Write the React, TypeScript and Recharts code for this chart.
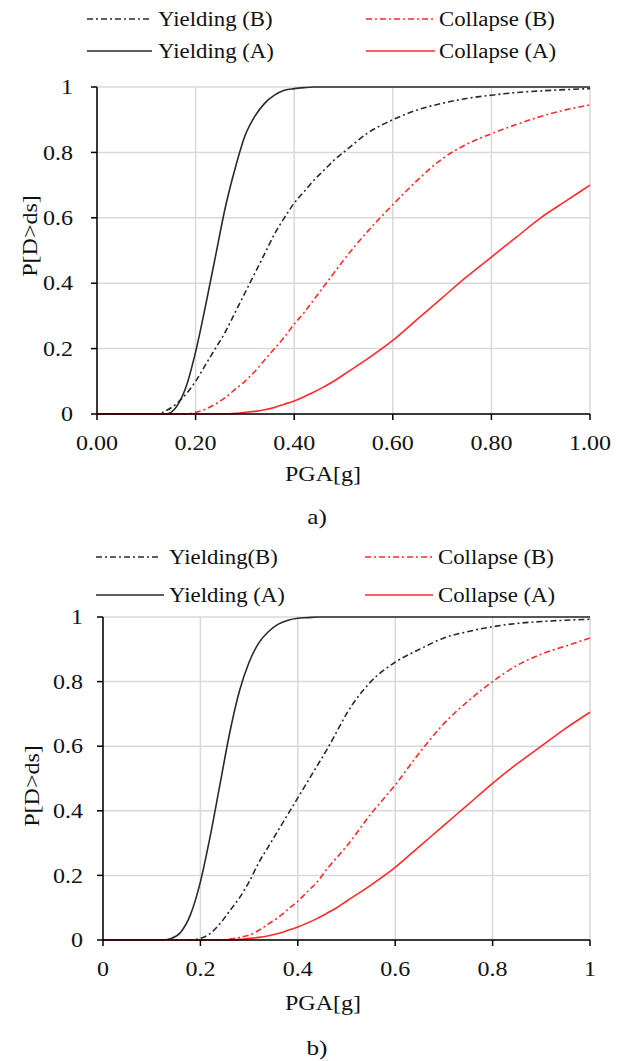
import { CartesianGrid, Line, LineChart, XAxis, YAxis } from "recharts";

// PGA sample points (g), shared by every curve
const pga = [
  0, 0.1, 0.12, 0.14, 0.16, 0.18, 0.2, 0.22, 0.24, 0.26, 0.28, 0.3, 0.32, 0.34, 0.36, 0.38,
  0.4, 0.42, 0.44, 0.46, 0.48, 0.5, 0.55, 0.6, 0.65, 0.7, 0.75, 0.8, 0.85, 0.9, 0.95, 1,
];

// panel a)
const yieldingA_a = [
  0, 0, 0, 0, 0.02, 0.08, 0.19, 0.33, 0.48, 0.63, 0.75, 0.85, 0.91, 0.95, 0.975, 0.99,
  0.995, 0.998, 1, 1, 1, 1, 1, 1, 1, 1, 1, 1, 1, 1, 1, 1,
];
const yieldingB_a = [
  0, 0, 0, 0.01, 0.03, 0.06, 0.1, 0.15, 0.2, 0.25, 0.31, 0.37, 0.43, 0.49, 0.55, 0.6,
  0.645, 0.68, 0.715, 0.745, 0.775, 0.8, 0.86, 0.9, 0.93, 0.95, 0.965, 0.975, 0.983, 0.988, 0.992, 0.995,
];
const collapseB_a = [
  0, 0, 0, 0, 0, 0, 0.005, 0.015, 0.03, 0.05, 0.075, 0.1, 0.13, 0.165, 0.2, 0.235,
  0.275, 0.31, 0.35, 0.39, 0.43, 0.47, 0.56, 0.64, 0.715, 0.78, 0.825, 0.857, 0.885, 0.91, 0.93, 0.945,
];
const collapseA_a = [
  0, 0, 0, 0, 0, 0, 0, 0, 0, 0, 0.002, 0.005, 0.008, 0.013, 0.02, 0.03,
  0.04, 0.053, 0.067, 0.083, 0.1, 0.12, 0.17, 0.225, 0.29, 0.355, 0.42, 0.48, 0.54, 0.6, 0.65, 0.7,
];

// panel b)
const yieldingA_b = [
  0, 0, 0, 0.005, 0.025, 0.08, 0.18, 0.32, 0.48, 0.64, 0.77, 0.86, 0.92, 0.955, 0.978, 0.99,
  0.996, 0.998, 1, 1, 1, 1, 1, 1, 1, 1, 1, 1, 1, 1, 1, 1,
];
const yieldingB_b = [
  0, 0, 0, 0, 0, 0, 0.005, 0.02, 0.05, 0.09, 0.13, 0.18, 0.24, 0.29, 0.34, 0.39,
  0.44, 0.49, 0.54, 0.59, 0.645, 0.7, 0.8, 0.86, 0.9, 0.935, 0.955, 0.97, 0.98, 0.986, 0.99, 0.993,
];
const collapseB_b = [
  0, 0, 0, 0, 0, 0, 0, 0, 0, 0.003, 0.008, 0.015, 0.03, 0.05, 0.07, 0.095,
  0.12, 0.15, 0.18, 0.22, 0.255, 0.29, 0.39, 0.48, 0.58, 0.67, 0.74, 0.8, 0.85, 0.885, 0.91, 0.935,
];
const collapseA_b = [
  0, 0, 0, 0, 0, 0, 0, 0, 0, 0, 0.002, 0.005, 0.008, 0.013, 0.02, 0.03,
  0.04, 0.053, 0.067, 0.083, 0.1, 0.12, 0.17, 0.225, 0.29, 0.355, 0.42, 0.485, 0.545, 0.6, 0.655, 0.705,
];

const xTicks = [0, 0.2, 0.4, 0.6, 0.8, 1];
const yTicks = [0, 0.2, 0.4, 0.6, 0.8, 1];

const FONT = "'Liberation Serif', 'Times New Roman', serif";
const BLACK = "#2a2a2a";
const RED = "#ff2b2b";
const DASH = "6 3 2 3";
const STRETCH = 1.2; // the figure's text is drawn wide

const rows = (yA: number[], yB: number[], cA: number[], cB: number[]) =>
  pga.map((x, i) => ({ pga: x, yA: yA[i], yB: yB[i], cA: cA[i], cB: cB[i] }));

const XTick = ({ x, y, payload, fmt }: any) => (
  <text
    transform={`translate(${x},${y}) scale(${STRETCH},1)`}
    textAnchor="middle"
    dy="0.71em"
    fontSize={20}
    fontFamily={FONT}
    fill="#111"
  >
    {fmt(payload.value)}
  </text>
);

const YTick = ({ x, y, payload }: any) => (
  <text
    transform={`translate(${x},${y}) scale(${STRETCH},1)`}
    textAnchor="end"
    dy="0.355em"
    fontSize={20}
    fontFamily={FONT}
    fill="#111"
  >
    {String(payload.value)}
  </text>
);

type LegendItem = { label: string; color: string; dash?: string; x: number; lineEnd: number; y: number; text: number };

const LegendKey = ({ label, color, dash, x, lineEnd, y, text }: LegendItem) => (
  <>
    <svg style={{ position: "absolute", left: x, top: y - 4 }} width={lineEnd - x} height={8}>
      <line x1={0} y1={4} x2={lineEnd - x} y2={4} stroke={color} strokeWidth={1.6} strokeDasharray={dash} />
    </svg>
    <div
      style={{
        position: "absolute",
        left: text,
        top: y - 13,
        fontSize: 20,
        lineHeight: "26px",
        whiteSpace: "nowrap",
        transform: "scaleX(1.14)",
        transformOrigin: "left center",
      }}
    >
      {label}
    </div>
  </>
);

type PanelProps = {
  top: number;
  data: ReturnType<typeof rows>;
  left: number;
  bottom: number;
  yMargin: number;
  xFmt: (v: number) => string;
  legend: LegendItem[];
  yLabelX: number;
  yLabelY: number;
  xLabelY: number;
  tag: string;
  tagY: number;
};

const centered = (cx: number, cy: number, w: number, size: number) => ({
  position: "absolute" as const,
  left: cx - w / 2,
  top: cy - 13,
  width: w,
  textAlign: "center" as const,
  fontSize: size,
  lineHeight: "26px",
  whiteSpace: "nowrap" as const,
});

const Panel = ({ top, data, left, bottom, yMargin, xFmt, legend, yLabelX, yLabelY, xLabelY, tag, tagY }: PanelProps) => (
  <div style={{ position: "absolute", left: 0, top, width: 620, height: 530 }}>
    {legend.map((l) => (
      <LegendKey key={l.label} {...l} />
    ))}
    <LineChart width={620} height={530} data={data} margin={{ top: 87, right: 30, left: left - 60, bottom: 490 - bottom }}>
      <CartesianGrid stroke="#d9d9d9" strokeWidth={1.5} />
      <XAxis
        dataKey="pga"
        type="number"
        domain={[0, 1]}
        ticks={xTicks}
        height={40}
        axisLine={{ stroke: "#000", strokeWidth: 1.5 }}
        tickLine={{ stroke: "#000", strokeWidth: 1.5 }}
        tickSize={6}
        tickMargin={16}
        tick={(p: any) => <XTick {...p} fmt={xFmt} />}
      />
      <YAxis
        type="number"
        domain={[0, 1]}
        ticks={yTicks}
        width={60}
        axisLine={{ stroke: "#000", strokeWidth: 1.5 }}
        tickLine={{ stroke: "#000", strokeWidth: 1.5 }}
        tickSize={6}
        tickMargin={yMargin}
        tick={(p: any) => <YTick {...p} />}
      />
      <Line dataKey="yB" type="monotone" stroke={BLACK} strokeWidth={1.6} strokeDasharray={DASH} dot={false} activeDot={false} isAnimationActive={false} />
      <Line dataKey="yA" type="monotone" stroke={BLACK} strokeWidth={1.6} dot={false} activeDot={false} isAnimationActive={false} />
      <Line dataKey="cB" type="monotone" stroke={RED} strokeWidth={1.6} strokeDasharray={DASH} dot={false} activeDot={false} isAnimationActive={false} />
      <Line dataKey="cA" type="monotone" stroke={RED} strokeWidth={1.6} dot={false} activeDot={false} isAnimationActive={false} />
    </LineChart>
    <div style={{ ...centered(yLabelX, yLabelY, 120, 20), transform: `rotate(-90deg) scaleX(${STRETCH})` }}>P[D&gt;ds]</div>
    <div style={{ ...centered(323, xLabelY, 120, 20), transform: `scaleX(${STRETCH})` }}>PGA[g]</div>
    <div style={{ ...centered(317, tagY, 60, 21), transform: `scaleX(${STRETCH})` }}>{tag}</div>
  </div>
);

export default function App() {
  return (
    <div style={{ position: "absolute", left: 0, top: 0, width: 620, height: 1061, background: "#fff", fontFamily: FONT, color: "#111" }}>
      <Panel
        top={0}
        data={rows(yieldingA_a, yieldingB_a, collapseA_a, collapseB_a)}
        left={97}
        bottom={414}
        yMargin={18}
        xFmt={(v) => v.toFixed(2)}
        legend={[
          { label: "Yielding (B)", color: BLACK, dash: DASH, x: 87, lineEnd: 150, y: 19, text: 158 },
          { label: "Collapse (B)", color: RED, dash: DASH, x: 366, lineEnd: 435, y: 19, text: 439 },
          { label: "Yielding (A)", color: BLACK, x: 87, lineEnd: 152, y: 51, text: 158 },
          { label: "Collapse (A)", color: RED, x: 366, lineEnd: 435, y: 51, text: 439 },
        ]}
        yLabelX={30}
        yLabelY={236}
        xLabelY={474}
        tag="a)"
        tagY={517}
      />
      <Panel
        top={530}
        data={rows(yieldingA_b, yieldingB_b, collapseA_b, collapseB_b)}
        left={103}
        bottom={410}
        yMargin={14}
        xFmt={(v) => String(v)}
        legend={[
          { label: "Yielding(B)", color: BLACK, dash: DASH, x: 96, lineEnd: 160, y: 27, text: 169 },
          { label: "Collapse (B)", color: RED, dash: DASH, x: 365, lineEnd: 433, y: 27, text: 438 },
          { label: "Yielding (A)", color: BLACK, x: 96, lineEnd: 164, y: 65, text: 169 },
          { label: "Collapse (A)", color: RED, x: 365, lineEnd: 433, y: 65, text: 438 },
        ]}
        yLabelX={32}
        yLabelY={256}
        xLabelY={473}
        tag="b)"
        tagY={518}
      />
    </div>
  );
}
